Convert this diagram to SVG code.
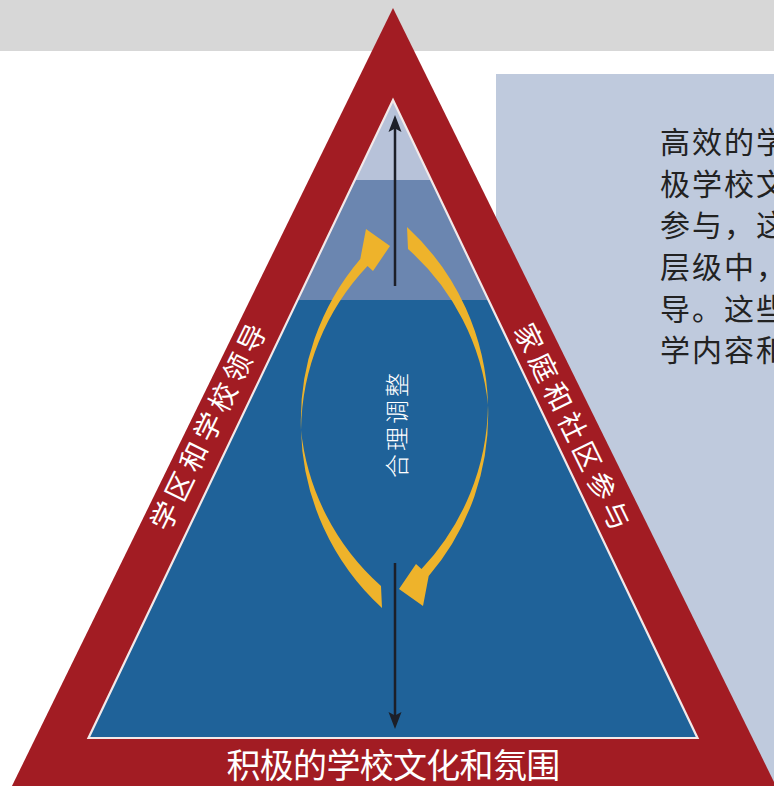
<svg xmlns="http://www.w3.org/2000/svg" xmlns:xlink="http://www.w3.org/1999/xlink" width="774" height="786" viewBox="0 0 774 786">
  <style>
    .cjk { font-family: "Noto Sans CJK SC", "Noto Sans", sans-serif; }
    .lbl { fill: #ffffff; }
    .body { fill: #222222; font-size: 30px; letter-spacing: 2px; }
    .yarc { fill: #eeb32b; }
    .blk { stroke: #1c1f28; stroke-width: 2.5; fill: none; }
    .blkhead { fill: #1c1f28; }
  </style>
  <defs>
    <path id="arcHead" d="M301,430 A249,249 0 0 1 360.3,258.9 L366,229 L390,246 L373,271 L367.5,266 A243,243 0 0 0 301,430 Z"/>
    <path id="arcTail" d="M301,430 A250,250 0 0 0 382,608 L381,586 A242,242 0 0 1 301,430 Z"/>
  </defs>

  <g id="background">
    <rect x="0" y="0" width="774" height="786" fill="#ffffff"/>
    <rect x="0" y="0" width="774" height="51" fill="#d7d7d7"/>
  </g>

  <g id="panel">
    <rect x="496" y="74" width="278" height="712" fill="#bfcadd"/>
    <text class="cjk body" x="660">
      <tspan x="660" y="153">高效的学</tspan>
      <tspan x="660" y="195">极学校文</tspan>
      <tspan x="660" y="236">参与，这</tspan>
      <tspan x="660" y="278">层级中，</tspan>
      <tspan x="660" y="320">导。这些</tspan>
      <tspan x="660" y="361">学内容和</tspan>
    </text>
  </g>

  <g id="triangle">
    <polygon points="393,8 778,790 10,790" fill="#a21c23"/>
    <polygon points="393,100 697.5,738 88.5,738" fill="#1f6299"/>
    <polygon points="393,100 431.2,180 354.8,180" fill="#b7c2d9"/>
    <polygon points="354.8,180 431.2,180 488.5,300 297.5,300" fill="#6b86b0"/>
    <polygon points="393,100 697.5,738 88.5,738" fill="none" stroke="#f3e9e9" stroke-width="2.2" stroke-linejoin="miter"/>
  </g>

  <g id="label-left">
    <text class="cjk lbl" x="208" y="424" font-size="28" letter-spacing="5" text-anchor="middle" dominant-baseline="central" transform="rotate(-63.9 208 424)">学区和学校领导</text>
  </g>
  <g id="label-right">
    <text class="cjk lbl" x="575" y="428" font-size="28" letter-spacing="5" text-anchor="middle" dominant-baseline="central" transform="rotate(63.9 575 428)">家庭和社区参与</text>
  </g>
  <g id="label-bottom">
    <text class="cjk lbl" x="393" y="778" font-size="34" letter-spacing="-0.7" text-anchor="middle">积极的学校文化和氛围</text>
  </g>
  <g id="label-center">
    <text class="cjk lbl" x="395" y="424" font-size="24" font-weight="300" letter-spacing="3" text-anchor="middle" dominant-baseline="central" transform="rotate(-90 395 424)">合理调整</text>
  </g>

  <g id="connectors">
    <g id="cycle">
      <use xlink:href="#arcHead" class="yarc"/>
      <use xlink:href="#arcTail" class="yarc"/>
      <use xlink:href="#arcHead" class="yarc" transform="rotate(180 394.5 417.5)"/>
      <use xlink:href="#arcTail" class="yarc" transform="rotate(180 394.5 417.5)"/>
    </g>
    <g id="arrow-up">
      <line class="blk" x1="395" y1="286" x2="395" y2="126"/>
      <polygon class="blkhead" points="395,115 401.5,132 395,128.5 388.5,132"/>
    </g>
    <g id="arrow-down">
      <line class="blk" x1="395" y1="563" x2="395" y2="716"/>
      <polygon class="blkhead" points="395,729 401.5,712 395,715.5 388.5,712"/>
    </g>
  </g>
</svg>
